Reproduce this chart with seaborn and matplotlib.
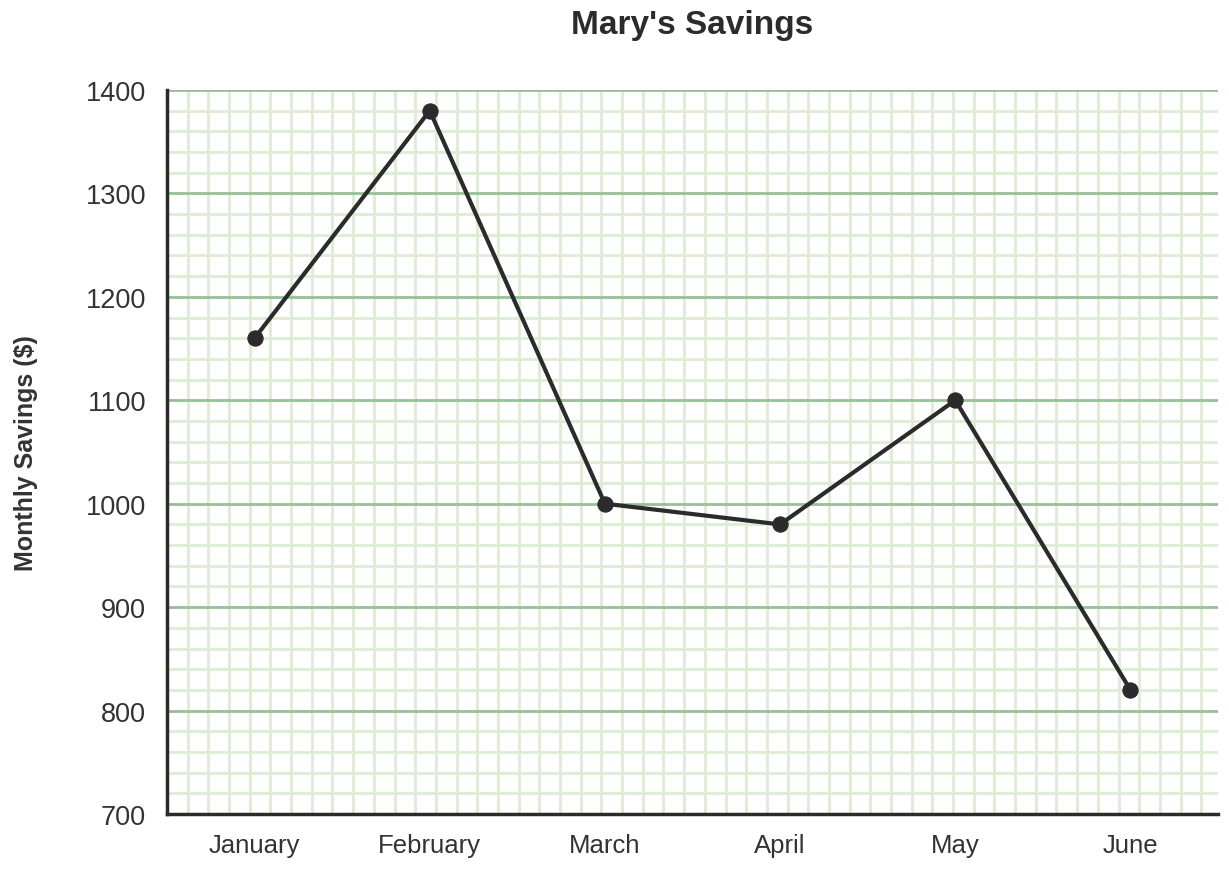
import matplotlib
matplotlib.use("Agg")
import matplotlib.pyplot as plt
import numpy as np
import pandas as pd
import seaborn as sns

# Data
months = ["January", "February", "March", "April", "May", "June"]
savings = [1160, 1380, 1000, 980, 1100, 820]
y_ticks = [700, 800, 900, 1000, 1100, 1200, 1300, 1400]

df = pd.DataFrame({"month": months, "savings": savings})
df["pos"] = range(len(months))

sns.set_theme(style="white")
plt.rcParams["font.family"] = ["Liberation Sans", "DejaVu Sans"]

fig = plt.figure(figsize=(12.29, 8.7), dpi=100)
ax = fig.add_axes([167 / 1229, 1 - 815 / 870, 1051 / 1229, 724 / 870])

# graph-paper grid: square minor cells, 20 units tall
ymin, ymax = 700, 1400
ax.set_xlim(-0.5, len(months) - 0.5)
ax.set_ylim(ymin, ymax)
x_step = 20 * (724 / (ymax - ymin)) / (1051 / len(months))
minor_x = np.arange(-0.5 + x_step, len(months) - 0.5, x_step)
minor_y = np.arange(ymin, ymax + 1, 20)
ax.set_xticks(minor_x, minor=True)
ax.set_yticks(minor_y, minor=True)
ax.grid(which="minor", color="#ddecd4", linewidth=2.0)
ax.grid(which="major", axis="y", color="#97c097", linewidth=2.0)
ax.grid(which="major", axis="x", visible=False)
ax.set_axisbelow(True)

sns.lineplot(data=df, x="pos", y="savings", ax=ax, color="#2b2b2b",
             linewidth=3, marker="o", markersize=11,
             markeredgecolor="#2b2b2b", zorder=5)

ax.set_xticks(range(len(months)))
ax.set_xticklabels(months)
ax.set_yticks(y_ticks)
ax.tick_params(axis="both", which="both", length=0)
ax.tick_params(axis="x", labelsize=18.5, pad=14, labelcolor="#333333")
ax.tick_params(axis="y", labelsize=19.5, pad=15, labelcolor="#333333")

for side in ["top", "right"]:
    ax.spines[side].set_visible(False)
for side in ["left", "bottom"]:
    ax.spines[side].set_color("#2b2b2b")
    ax.spines[side].set_linewidth(2.5)

ax.set_xlabel("")
ax.set_ylabel("Monthly Savings ($)", fontsize=18, fontweight="bold",
              color="#333333", labelpad=34)
ax.set_title("Mary's Savings", fontsize=24, fontweight="bold",
             color="#2b2b2b", pad=41)

fig.savefig("out.png", dpi=100)
